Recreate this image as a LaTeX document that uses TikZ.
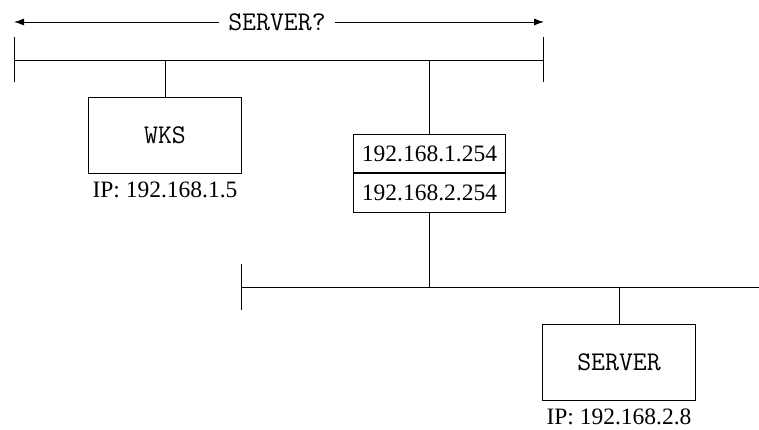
\documentclass[tikz,border=0pt]{standalone}
\usepackage{fontspec}
\setmainfont{Liberation Serif}
\usetikzlibrary{positioning, arrows.meta}

\tikzset{
  host/.style={draw, minimum width=153pt, minimum height=76pt,
    font=\ttfamily\fontsize{27}{27}\selectfont},
  addr/.style={draw, minimum width=152pt, minimum height=38.5pt, inner sep=0pt,
    font=\fontsize{23.5}{23.5}\selectfont},
  iplabel/.style={inner sep=0pt, font=\fontsize{23.5}{23.5}\selectfont},
  bus/.style={line width=0.9pt},
}

\begin{document}
\begin{tikzpicture}[x=1pt, y=-1pt, line width=0.9pt]
  \useasboundingbox (0,0) rectangle (759,430);

  % upper segment
  \coordinate (busAw) at (14,60);
  \coordinate (busAe) at (543,60);
  \draw[bus] (busAw) -- (busAe);
  \draw (14,37) -- (14,82);
  \draw (543,37) -- (543,82);

  % lower segment
  \coordinate (busBw) at (241,287);
  \coordinate (busBe) at (759,287);
  \draw[bus] (busBw) -- (busBe);
  \draw (241,264) -- (241,310);

  % question arrow
  \coordinate (arrW) at (14,22);
  \coordinate (arrE) at (544,22);
  \node[fill=white, inner xsep=9pt, font=\ttfamily\fontsize{27}{27}\selectfont]
    (ask) at (277,22) {SERVER?};
  \begin{scope}[-{Latex[length=10pt,width=7pt]}]
    \draw (ask) -- (arrW);
    \draw (ask) -- (arrE);
  \end{scope}

  % workstation
  \node[host] (wks) at (165,135) {WKS};
  \node[iplabel] (wksip) at (165,190) {IP: 192.168.1.5};
  \draw (wks) -- (wks |- busAw);

  % router
  \node[addr] (gw1) at (429.5,153.5) {192.168.1.254};
  \node[addr, anchor=north] (gw2) at (gw1.south) {192.168.2.254};
  \draw (gw1) -- (gw1 |- busAw);
  \draw (gw2) -- (gw2 |- busBw);

  % server
  \node[host] (srv) at (619,362) {SERVER};
  \node[iplabel] (srvip) at (619,417) {IP: 192.168.2.8};
  \draw (srv) -- (srv |- busBw);
\end{tikzpicture}
\end{document}
